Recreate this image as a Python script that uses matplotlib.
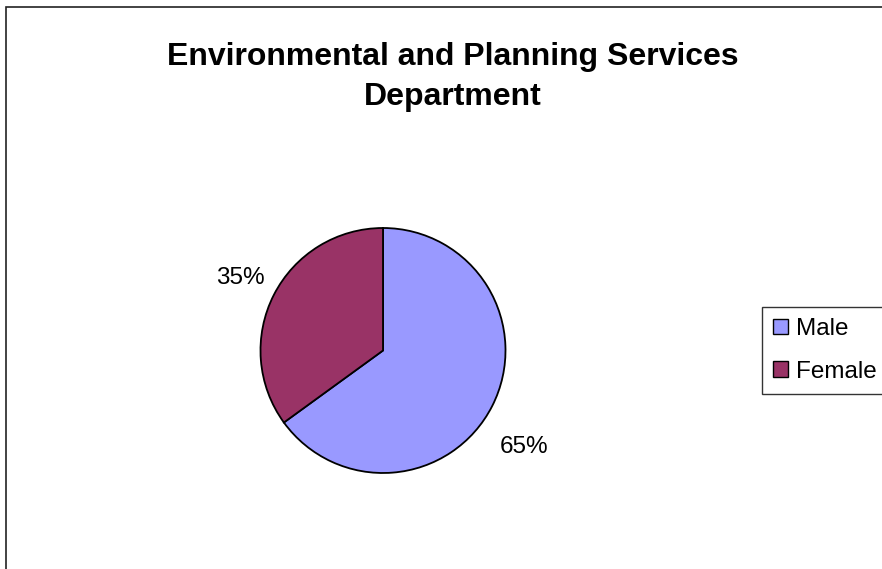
import matplotlib
matplotlib.use("Agg")
import matplotlib.pyplot as plt
from matplotlib.patches import Rectangle

categories = ["Male", "Female"]
values = [65, 35]
colors = ["#9999FF", "#993366"]
title = "Environmental and Planning Services\nDepartment"

plt.rcParams['font.family'] = ['Liberation Sans', 'DejaVu Sans']

W, H = 882, 569
fig = plt.figure(figsize=(W / 100, H / 100), dpi=100)

# outer chart frame (cropped at right/bottom)
fig.patches.append(Rectangle((6 / W, -0.1), 1.2, 1 - 7 / H + 0.1, transform=fig.transFigure,
                             fill=False, edgecolor="#222222", linewidth=1.2))

cx, cy, r = 383, 350.5, 122.5
ax = fig.add_axes([(cx - r) / W, (H - cy - r) / H, 2 * r / W, 2 * r / H])
wedges, _ = ax.pie(values, colors=colors, startangle=90, counterclock=False, radius=1,
                   wedgeprops=dict(edgecolor="black", linewidth=1.3))
ax.set_xlim(-1, 1)
ax.set_ylim(-1, 1)
ax.set_aspect("equal")
ax.axis("off")

label_pos = [(1.151, -0.784), (-1.167, 0.588)]
for v, (x, y) in zip(values, label_pos):
    ax.text(x, y, f"{v}%", ha="center", va="center", fontsize=17.5, clip_on=False)

fig.text(453 / W, 1 - 77 / H, title, ha="center", va="center", fontsize=23, fontweight="bold",
         linespacing=1.45)

leg = fig.legend(wedges, categories, loc="upper left", bbox_to_anchor=(762 / W, 1 - 307 / H),
                 fontsize=17.5, frameon=True, fancybox=False, edgecolor="black",
                 handlelength=0.62, handleheight=0.62, handletextpad=0.32, borderpad=0.45,
                 labelspacing=0.86, borderaxespad=0)
leg.get_frame().set_linewidth(1.0)
for h in leg.legend_handles:
    h.set_linewidth(1.0)

fig.savefig("out.png", dpi=100)
